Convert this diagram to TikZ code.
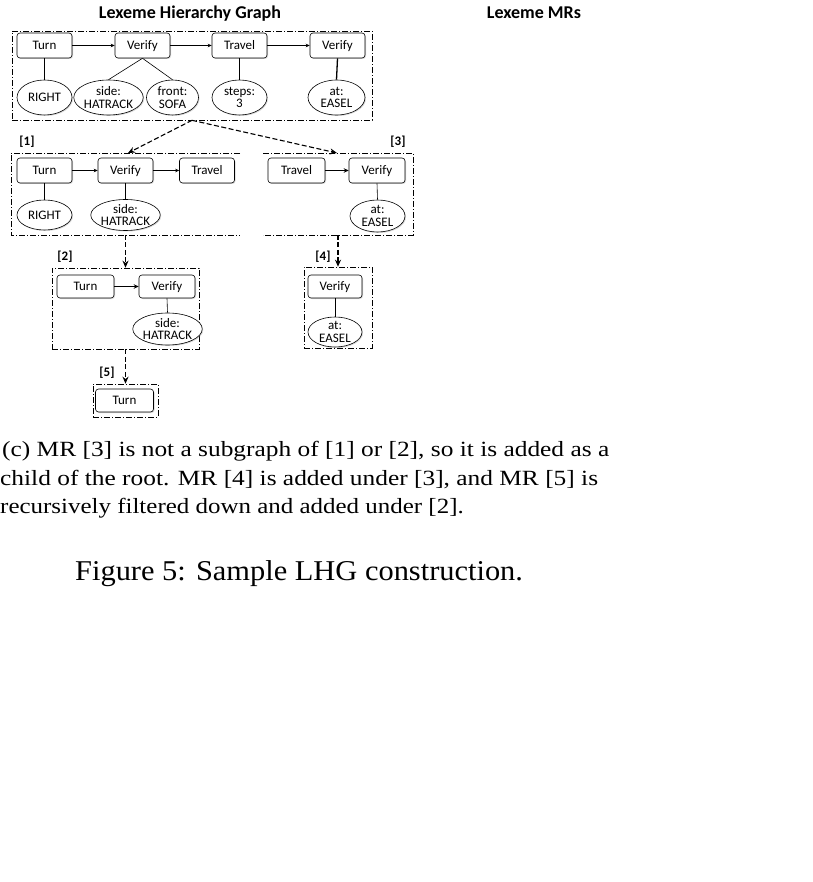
\documentclass[tikz,border=0pt]{standalone}
\usepackage{fontspec}
\setmainfont{Liberation Serif}
\newfontfamily\carl{Carlito}
\usetikzlibrary{arrows.meta,shapes.geometric,shadows}
\begin{document}
\begin{tikzpicture}[x=1pt,y=-1pt,
  shad/.style={drop shadow={shadow xshift=1pt,shadow yshift=-1pt,opacity=0.3}},
  box/.style={draw, rounded corners=3pt, minimum width=55pt, minimum height=25pt, inner sep=0pt, text height=10pt, text depth=2pt, fill=white, line width=0.6pt, font=\carl\fontsize{13}{13}\selectfont, shad},
  attr/.style={draw, ellipse, minimum width=55pt, minimum height=33pt, inner sep=0pt, align=center, fill=white, line width=0.6pt, font=\carl\fontsize{13}{12.5}\selectfont, shad},
  grp/.style={draw, dash pattern=on 6pt off 2pt on 1pt off 2pt, line width=0.6pt, inner sep=0pt},
  lbl/.style={font=\carl\bfseries\fontsize{13}{13}\selectfont},
  ttl/.style={font=\carl\bfseries\fontsize{18}{18}\selectfont, anchor=base},
  arr/.style={-{Stealth[length=4pt,width=3.5pt]}, line width=0.6pt},
  tarr/.style={-{Stealth[length=5pt,width=4.5pt]}, line width=1.3pt},
  link/.style={line width=0.6pt},
  tlink/.style={line width=1.3pt},
  darr/.style={-{Stealth[length=7pt,width=6pt]}, line width=1.1pt, dash pattern=on 5pt off 2.5pt},
  capt/.style={anchor=base west, inner sep=0pt, font=\fontsize{21.7}{21.7}\selectfont},
]
\useasboundingbox (0,0) rectangle (812,882);

% titles
\node[ttl] (t1) at (190,19) {Lexeme Hierarchy Graph};
\node[ttl] (t2) at (534,19) {Lexeme MRs};

% root group
\node[grp, minimum width=360pt, minimum height=89pt] (g0) at (192,75.5) {};
\node[box] (r1) at (44.5,45.5) {Turn};
\node[box] (r2) at (142.5,45.5) {Verify};
\node[box] (r3) at (239.5,45.5) {Travel};
\node[box] (r4) at (337.5,45.5) {Verify};
\node[attr, minimum height=35pt] (ra1) at (44.5,97.5) {RIGHT};
\node[attr, minimum width=53pt, minimum height=35pt] (ra2) at (108.5,97.5) {side:\\HATRACK};
\node[attr, minimum width=52pt, minimum height=35pt] (ra3) at (172.5,97.5) {front:\\SOFA};
\node[attr, minimum height=35pt] (ra4) at (239.5,97.5) {steps:\\3};
\node[attr, minimum width=57pt, minimum height=35pt] (ra5) at (336.5,97.5) {at:\\EASEL};
\draw[arr] (r1) -- (r2);
\draw[arr] (r2) -- (r3);
\draw[arr] (r3) -- (r4);
\draw[link] (r1.south) -- (ra1.north);
\draw[link] (r2.south) -- (ra2.north);
\draw[link] (r2.south) -- (ra3.north);
\draw[link] (r3.south) -- (ra4.north);
\draw[tlink] (r4.south) -- (ra5.north);

% group [1]
\draw[grp] (240,153) -- (11,153) -- (11,235) -- (240,235);
\coordinate (g1in) at (128,153);
\coordinate (g1out) at (125.5,235);
\node[lbl] (l1) at (27,142) {[1]};
\node[box] (a1) at (44.5,170.5) {Turn};
\node[box] (a2) at (125.5,170.5) {Verify};
\node[box] (a3) at (207,170.5) {Travel};
\node[attr, minimum height=30pt] (aa1) at (44.5,215) {RIGHT};
\node[attr, minimum height=31pt] (aa2) at (125.5,215) {side:\\HATRACK};
\draw[arr] (a1) -- (a2);
\draw[arr] (a2) -- (a3);
\draw[link] (a1.south) -- (aa1.north);
\draw[tlink] (a2.south) -- (aa2.north);

% group [3]
\draw[grp] (263,153) -- (413,153) -- (413,235) -- (263,235);
\coordinate (g3in) at (337,153);
\coordinate (g3out) at (338,235);
\node[lbl] (l3) at (398,142) {[3]};
\node[box, minimum width=57pt] (b1) at (296.5,170.5) {Travel};
\node[box, minimum width=56pt] (b2) at (377,170.5) {Verify};
\node[attr, minimum height=32pt] (ba1) at (377.5,216) {at:\\EASEL};
\draw[tarr] (b1) -- (b2);
\draw[link] (b2.south) -- (ba1.north);

% group [2]
\node[grp, minimum width=147pt, minimum height=81pt] (g2) at (125.5,308.5) {};
\node[lbl] (l2) at (65,257) {[2]};
\node[box, minimum width=57pt, minimum height=23pt] (c1) at (85.5,286.5) {Turn};
\node[box, minimum width=56pt, minimum height=23pt] (c2) at (167,286.5) {Verify};
\node[attr, minimum width=59pt, minimum height=32pt] (ca1) at (167.5,329) {side:\\HATRACK};
\draw[tarr] (c1) -- (c2);
\draw[link] (c2.south) -- (ca1.north);

% group [4]
\node[grp, minimum width=68pt, minimum height=81pt] (g4) at (338,307.5) {};
\node[lbl] (l4) at (323,257) {[4]};
\node[box, minimum width=54pt, minimum height=23pt] (d1) at (335,286.5) {Verify};
\node[attr, minimum width=54pt, minimum height=30pt] (da1) at (335,332) {at:\\EASEL};
\draw[link] (d1.south) -- (da1.north);

% group [5]
\node[grp, minimum width=65pt, minimum height=33pt] (g5) at (125.5,400.5) {};
\node[lbl] (l5) at (107,373) {[5]};
\node[box, minimum width=58pt, minimum height=23pt] (e1) at (124.5,400.5) {Turn};

% hierarchy arrows
\draw[darr] (g0.south) -- (g1in);
\draw[darr] (g0.south) -- (g3in);
\draw[darr] (g1out) -- (g2.north);
\draw[darr] (g3out) -- (g4.north);
\draw[darr] (g2.south) -- (g5.north);

% caption
\node[capt] (p1) at (2,456) {\scalebox{1.17}[1]{(c) MR [3] is not a subgraph of [1] or [2], so it is added as a}};
\node[capt] (p2) at (0,485) {\scalebox{1.17}[1]{child of the root. MR [4] is added under [3], and MR [5] is}};
\node[capt] (p3) at (0,513) {\scalebox{1.15}[1]{recursively filtered down and added under [2].}};
\node[capt, font=\fontsize{28.7}{28.7}\selectfont] (fig) at (75,580) {\scalebox{1.06}[1]{Figure 5: Sample LHG construction.}};
\end{tikzpicture}
\end{document}
